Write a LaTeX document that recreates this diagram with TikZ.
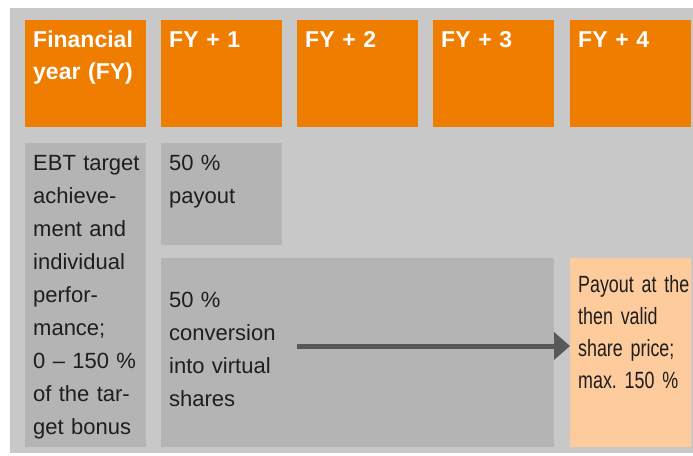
\documentclass[tikz,border=0pt]{standalone}
\usepackage{fontspec}
\setmainfont{Liberation Sans}
\newfontfamily\narrowfont{Liberation Sans}[FakeStretch=0.76]
\usetikzlibrary{arrows.meta}
\definecolor{hdrorange}{HTML}{EE7D00}
\definecolor{panelgray}{HTML}{C8C8C8}
\definecolor{boxgray}{HTML}{B4B4B4}
\definecolor{peach}{HTML}{FDCB9C}
\definecolor{arrowgray}{HTML}{585858}
\definecolor{txtdark}{HTML}{1E1E1E}
\tikzset{
  boxbase/.style={anchor=north west, inner sep=0pt, outer sep=0pt, draw=none},
  hdrbox/.style={boxbase, fill=hdrorange, minimum width=121pt, minimum height=107pt},
  graybox/.style={boxbase, fill=boxgray},
  peachbox/.style={boxbase, fill=peach},
  hdrtext/.style={anchor=north west, inner sep=0pt, align=left, text width=118pt,
    text=white, font=\fontsize{23}{32}\selectfont\bfseries},
  bodytext/.style={anchor=north west, inner sep=0pt, align=left, text width=130pt,
    text=txtdark, font=\fontsize{22}{33}\selectfont},
  narrowtext/.style={anchor=north west, inner sep=0pt, align=left, text width=118pt,
    text=txtdark, font=\narrowfont\fontsize{23.5}{32}\selectfont\frenchspacing},
  bigarrow/.style={draw=arrowgray, line width=5pt, -{Triangle[length=16pt,width=27pt]}}
}
\begin{document}
\begin{tikzpicture}[x=1pt,y=-1pt]
\useasboundingbox (0,0) rectangle (693,455);
\fill[white] (0,0) rectangle (693,455);
\node[boxbase, fill=panelgray, minimum width=683pt, minimum height=445pt] (panel) at (10,8) {};

% header row
\node[hdrbox] (h0) at (25,20) {};
\node[hdrbox] (h1) at (161,20) {};
\node[hdrbox] (h2) at (297,20) {};
\node[hdrbox] (h3) at (433,20) {};
\node[hdrbox] (h4) at (570,20) {};
\node[hdrtext] (t0) at (33,24.6) {\strut Financial\\year (FY)};
\node[hdrtext] (t1) at (169,24.6) {\strut FY + 1};
\node[hdrtext] (t2) at (305,24.6) {\strut FY + 2};
\node[hdrtext] (t3) at (441,24.6) {\strut FY + 3};
\node[hdrtext] (t4) at (578,24.6) {\strut FY + 4};

% body boxes
\node[graybox, minimum width=121pt, minimum height=304pt] (ebt) at (25,143) {};
\node[graybox, minimum width=121pt, minimum height=102pt] (pay) at (161,143) {};
\node[graybox, minimum width=393pt, minimum height=189pt] (conv) at (161,258) {};
\node[peachbox, minimum width=121pt, minimum height=189pt] (final) at (570,258) {};

% body texts
\node[bodytext] (ebttext) at (33,146.9) {\strut EBT target\\achieve-\\ment and\\individual\\perfor-\\mance;\\0 – 150 \%\\of the tar-\\get bonus};
\node[bodytext] (paytext) at (169,146.9) {\strut 50 \%\\payout};
\node[bodytext] (convtext) at (169,283.9) {\strut 50 \%\\conversion\\into virtual\\shares};
\node[narrowtext] (finaltext) at (578,269.6) {\strut Payout at the\\then valid\\share price;\\max.\ 150 \%};

% arrow
\coordinate (arrstart) at (297,346);
\draw[bigarrow] (arrstart) -- (arrstart -| final.west);
\end{tikzpicture}
\end{document}
